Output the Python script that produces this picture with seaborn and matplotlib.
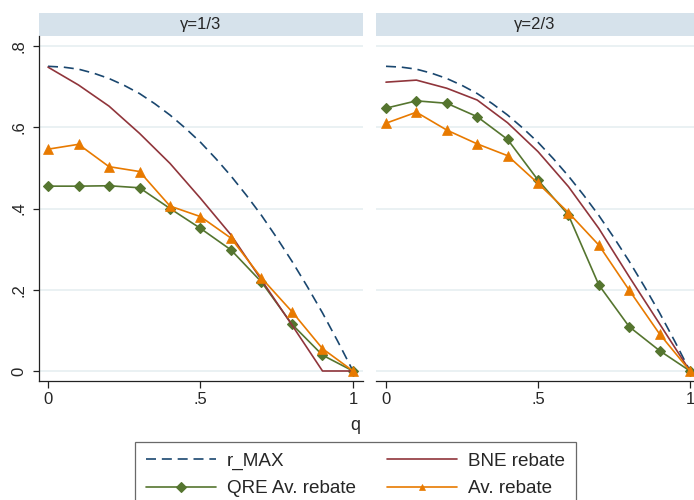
import numpy as np
import pandas as pd
import seaborn as sns
import matplotlib.pyplot as plt
from matplotlib.patches import Rectangle

# q grid of the simulated points and the finer grid of the r_MAX curve
q = [0.0, 0.1, 0.2, 0.3, 0.4, 0.5, 0.6, 0.7, 0.8, 0.9, 1.0]
q_fine = [0.0, 0.05, 0.1, 0.15, 0.2, 0.25, 0.3, 0.35, 0.4, 0.45, 0.5,
          0.55, 0.6, 0.65, 0.7, 0.75, 0.8, 0.85, 0.9, 0.95, 1.0]

panels = ["γ=1/3", "γ=2/3"]

r_max = [0.750, 0.748, 0.743, 0.733, 0.720, 0.703, 0.683, 0.658, 0.630, 0.598, 0.563,
         0.523, 0.480, 0.433, 0.383, 0.328, 0.270, 0.208, 0.143, 0.073, 0.0]

bne_13 = [0.748, 0.704, 0.652, 0.585, 0.511, 0.425, 0.335, 0.224, 0.113, 0.0, 0.0]
qre_13 = [0.455, 0.455, 0.456, 0.451, 0.400, 0.351, 0.298, 0.219, 0.115, 0.039, 0.0]
avg_13 = [0.546, 0.558, 0.503, 0.491, 0.406, 0.380, 0.327, 0.229, 0.146, 0.055, 0.0]

bne_23 = [0.711, 0.716, 0.696, 0.667, 0.611, 0.540, 0.454, 0.351, 0.232, 0.116, 0.0]
qre_23 = [0.647, 0.665, 0.659, 0.626, 0.570, 0.470, 0.384, 0.212, 0.109, 0.050, 0.0]
avg_23 = [0.610, 0.637, 0.593, 0.559, 0.530, 0.462, 0.390, 0.310, 0.199, 0.091, 0.0]

yticks = [0, 0.2, 0.4, 0.6, 0.8]
ytick_labels = ["0", ".2", ".4", ".6", ".8"]
xticks = [0, 0.5, 1]
xtick_labels = ["0", ".5", "1"]

NAVY = "#1a476f"
MAROON = "#90353b"
GREEN = "#55752f"
ORANGE = "#e87a00"
STRIP = "#d6e2eb"
GRID = "#e8f0f2"

sns.set_style("white")
plt.rcParams["font.family"] = ["Liberation Sans", "DejaVu Sans"]

fig = plt.figure(figsize=(6.94, 5.0), dpi=100)
W, H = 694, 500


def px_axes(x0, x1, y0, y1):
    return fig.add_axes([x0 / W, 1 - y1 / H, (x1 - x0) / W, (y1 - y0) / H])


ax_l = px_axes(39, 363, 36, 381)
ax_r = px_axes(376, 694, 36, 381)

series = {
    "γ=1/3": (bne_13, qre_13, avg_13),
    "γ=2/3": (bne_23, qre_23, avg_23),
}

for ax, name in zip([ax_l, ax_r], panels):
    bne, qre, avg = series[name]
    for yv in yticks:
        ax.axhline(yv, color=GRID, lw=1.3, zorder=0)
    sns.lineplot(x=q_fine, y=r_max, ax=ax, color=NAVY, lw=1.2,
                 linestyle=(0, (6, 3.5)), label="r_MAX", errorbar=None)
    sns.lineplot(x=q, y=qre, ax=ax, color=GREEN, lw=1.2, marker="D",
                 markersize=5, markeredgewidth=0.8, markeredgecolor=GREEN,
                 label="QRE Av. rebate", errorbar=None)
    sns.lineplot(x=q, y=bne, ax=ax, color=MAROON, lw=1.2,
                 label="BNE rebate", errorbar=None)
    sns.lineplot(x=q, y=avg, ax=ax, color=ORANGE, lw=1.2, marker="^",
                 markersize=6.5, markeredgewidth=0.5, markeredgecolor=ORANGE,
                 label="Av. rebate", errorbar=None)

    # header strip
    ax.add_patch(Rectangle((0, 1), 1, 23 / 345, transform=ax.transAxes,
                           facecolor=STRIP, edgecolor="none", clip_on=False))
    ax.text(0.5, 1 + 11.5 / 345, name, transform=ax.transAxes, ha="center",
            va="center", fontsize=12)

    ax.set_ylim(-10 / 406.25, 0.8 + 10 / 406.25)
    ax.set_xticks(xticks)
    ax.set_xticklabels(xtick_labels, fontsize=12)
    ax.tick_params(axis="x", direction="out", length=5, width=0.9, pad=3,
                   color="#222222", bottom=True)
    ax.set_xlabel("")
    ax.set_ylabel("")
    for s in ["top", "right", "left"]:
        ax.spines[s].set_visible(False)
    ax.spines["bottom"].set_color("#222222")
    ax.spines["bottom"].set_linewidth(0.9)

handles, labels = ax_l.get_legend_handles_labels()
ax_l.get_legend().remove()
ax_r.get_legend().remove()

ax_l.set_xlim(-9 / 305, 1 + 10 / 305)
ax_r.set_xlim(-10 / 304, 1 + 4 / 304)

ax_l.spines["left"].set_visible(True)
ax_l.spines["left"].set_color("#222222")
ax_l.spines["left"].set_linewidth(0.9)
ax_l.set_yticks(yticks)
ax_l.set_yticklabels(ytick_labels, fontsize=12, rotation=90, va="center")
ax_l.tick_params(axis="y", direction="out", length=4, width=0.9, pad=5,
                 color="#222222", left=True)
ax_r.set_yticks([])

fig.text(355 / W, 1 - 425 / H, "q", ha="center", va="center", fontsize=13)

order = [labels.index(l) for l in ["r_MAX", "QRE Av. rebate", "BNE rebate", "Av. rebate"]]
leg = fig.legend([handles[i] for i in order], [labels[i] for i in order],
                 loc="upper center", bbox_to_anchor=(355.5 / W, 1 - 442 / H),
                 ncol=2, fontsize=13.6, frameon=True, fancybox=False,
                 edgecolor="#444444", handlelength=3.7, handletextpad=0.6,
                 columnspacing=1.65, labelspacing=0.55, borderpad=0.55,
                 borderaxespad=0)
leg.get_frame().set_linewidth(0.9)
for h in leg.legend_handles:
    h.set_markersize(5)

fig.savefig("out.png", dpi=100)
